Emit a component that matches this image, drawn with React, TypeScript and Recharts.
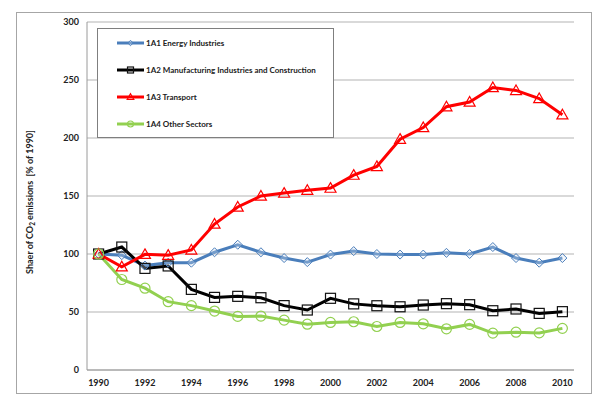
import React from "react";
import { CartesianGrid, Line, LineChart, XAxis, YAxis } from "recharts";

const years = [
  1990, 1991, 1992, 1993, 1994, 1995, 1996, 1997, 1998, 1999, 2000,
  2001, 2002, 2003, 2004, 2005, 2006, 2007, 2008, 2009, 2010,
];
const energy = [100, 99, 90, 92.5, 92.5, 101.5, 108, 101.5, 96.5, 93, 99.5, 102.5, 100, 99.5, 99.5, 101, 100, 106, 96.5, 92.5, 96.5];
const manufacturing = [100, 106, 87.6, 89.7, 69.5, 62.6, 63.5, 62.3, 55.5, 51.7, 61.8, 57, 55.4, 54.5, 56, 57.2, 56.3, 51.1, 52.6, 48.8, 50.3];
const transport = [100, 89, 99.7, 99, 103.5, 125.8, 140.5, 150, 152.5, 155, 156.8, 168, 175.5, 199, 209, 227, 231, 243.5, 241, 234, 220];
const otherSectors = [100, 78, 70.5, 58.9, 55.5, 50.8, 46.2, 46.5, 43, 39.5, 41, 41.6, 37.5, 41, 39.8, 35.5, 39.3, 31.8, 32.6, 32, 35.9];
const yTicks = [0, 50, 100, 150, 200, 250, 300];

const series = [
  { key: "energy", name: "1A1 Energy Industries", color: "#4a7ebb", shape: "diamond", values: energy },
  { key: "manufacturing", name: "1A2 Manufacturing Industries and Construction", color: "#000000", shape: "square", values: manufacturing },
  { key: "transport", name: "1A3 Transport", color: "#ff0000", shape: "triangle", values: transport },
  { key: "other", name: "1A4 Other Sectors", color: "#92d050", shape: "circle", values: otherSectors },
];

const data = years.map((year, i) => {
  const row: Record<string, number> = { year };
  series.forEach((s) => (row[s.key] = s.values[i]));
  return row;
});

const FONT = "Lato, 'Liberation Sans', sans-serif";

function Marker({ shape, cx, cy, color, k = 1 }: { shape: string; cx: number; cy: number; color: string; k?: number }) {
  if (cx == null || cy == null) return null;
  if (shape === "diamond") {
    const r = 4.5 * k;
    return <path d={`M${cx},${cy - r}L${cx + r},${cy}L${cx},${cy + r}L${cx - r},${cy}Z`} fill="#dbe5f1" fillOpacity={0.3} stroke={color} strokeWidth={1} />;
  }
  if (shape === "square") {
    const r = 5 * k;
    return <rect x={cx - r} y={cy - r} width={2 * r} height={2 * r} fill="none" stroke="#111" strokeWidth={1.2} />;
  }
  if (shape === "triangle") {
    const r = 5.5 * k;
    return <path d={`M${cx},${cy - r}L${cx + r},${cy + r * 0.75}L${cx - r},${cy + r * 0.75}Z`} fill="none" stroke={color} strokeWidth={1.2} />;
  }
  return <circle cx={cx} cy={cy} r={5 * k} fill="none" stroke={color} strokeWidth={1.2} />;
}

function LegendBox() {
  return (
    <svg width={237} height={110} style={{ position: "absolute", left: 97, top: 28, display: "block" }}>
      <rect x={0.5} y={0.5} width={236} height={109} fill="#fff" stroke="#7f7f7f" strokeWidth={1} />
      {series.map((s, i) => {
        const y = 15 + i * 27;
        return (
          <g key={s.key}>
            <line x1={20} x2={47} y1={y} y2={y} stroke={s.color} strokeWidth={3} />
            <Marker shape={s.shape} cx={33.5} cy={y} color={s.color} k={0.6} />
            <text x={49} y={y + 3} fontSize={8} fontWeight={700} fill="#222" fontFamily={FONT}>
              {s.name}
            </text>
          </g>
        );
      })}
    </svg>
  );
}

function YLabel(props: any) {
  const { viewBox } = props;
  const x = viewBox.x + 33;
  const y = viewBox.y + viewBox.height / 2 + 6;
  return (
    <text x={x} y={y} transform={`rotate(-90 ${x} ${y})`} textAnchor="middle" fontSize={9} fontWeight={700} fill="#222" fontFamily={FONT}>
      <tspan>Shaer of CO</tspan>
      <tspan fontSize={6.5} dy={2}>2</tspan>
      <tspan dy={-2}>{" emissions\u00a0\u00a0[% of 1990]"}</tspan>
    </text>
  );
}

export default function App() {
  return (
    <div style={{ position: "absolute", left: 0, top: 0, width: 606, height: 402, background: "#fff" }}>
      <div style={{ position: "absolute", left: 16, top: 12, width: 574, height: 380, border: "1px solid #a6a6a6" }} />
      <LineChart width={606} height={402} data={data} margin={{ top: 22, right: 32, bottom: 0, left: 0 }}>
        <CartesianGrid vertical={false} stroke="#b3b3b3" strokeWidth={1} />
        <XAxis
          dataKey="year"
          height={32}
          interval={1}
          tickLine={false}
          stroke="#9a9a9a"
          tickMargin={4}
          padding={{ left: 11.6, right: 11.6 }}
          tick={{ fontSize: 9, fontWeight: 700, fill: "#222", fontFamily: FONT }}
        />
        <YAxis
          width={87}
          domain={[0, 300]}
          ticks={yTicks}
          tickLine={false}
          stroke="#9a9a9a"
          tick={{ fontSize: 9, fontWeight: 700, fill: "#222", fontFamily: FONT }}
          label={<YLabel />}
        />
        {series.map((s) => (
          <Line
            key={s.key}
            dataKey={s.key}
            name={s.name}
            stroke={s.color}
            strokeWidth={3}
            isAnimationActive={false}
            dot={(p: any) => <Marker key={`${s.key}-${p.index}`} shape={s.shape} cx={p.cx} cy={p.cy} color={s.color} />}
            activeDot={false}
          />
        ))}
      </LineChart>
      <LegendBox />
    </div>
  );
}
